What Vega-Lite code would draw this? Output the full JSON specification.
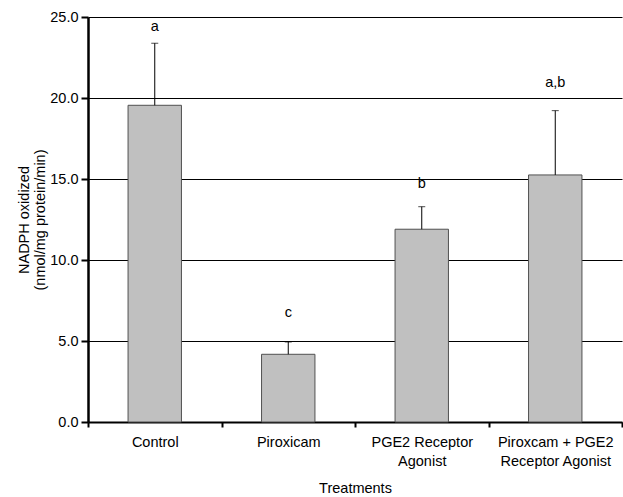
{
  "$schema": "https://vega.github.io/schema/vega-lite/v6.json",
  "width": 534,
  "height": 405,
  "autosize": {"type": "none"},
  "padding": {"left": 88, "top": 17, "right": 1, "bottom": 75},
  "background": "white",
  "config": {
    "view": {"stroke": null},
    "font": "Liberation Sans",
    "axis": {"labelFont": "Liberation Sans", "titleFont": "Liberation Sans"}
  },
  "data": {
    "values": [
      {"treatment": "Control", "mean": 19.55, "upper": 23.38, "letter": "a", "letterY": 24.4},
      {"treatment": "Piroxicam", "mean": 4.18, "upper": 4.94, "letter": "c", "letterY": 6.7},
      {"treatment": "PGE2 Receptor Agonist", "mean": 11.9, "upper": 13.29, "letter": "b", "letterY": 14.7},
      {"treatment": "Piroxcam + PGE2 Receptor Agonist", "mean": 15.25, "upper": 19.22, "letter": "a,b", "letterY": 20.9}
    ]
  },
  "encoding": {
    "x": {
      "field": "treatment",
      "type": "nominal",
      "sort": null,
      "scale": {"paddingInner": 0, "paddingOuter": 0},
      "axis": {
        "tickBand": "extent",
        "labelAngle": 0,
        "domainColor": "black",
        "domainWidth": 2,
        "tickColor": "black",
        "tickWidth": 2,
        "tickSize": 5,
        "labelPadding": 8,
        "labelFontSize": 14.5,
        "labelColor": "black",
        "labelLineHeight": 19,
        "labelExpr": "datum.label == 'PGE2 Receptor Agonist' ? ['PGE2 Receptor', 'Agonist'] : datum.label == 'Piroxcam + PGE2 Receptor Agonist' ? ['Piroxcam + PGE2', 'Receptor Agonist'] : datum.label",
        "title": "Treatments",
        "titleFontSize": 14.5,
        "titleFontWeight": "normal",
        "titleColor": "black",
        "titlePadding": 14,
        "grid": false
      }
    }
  },
  "layer": [
    {
      "mark": {"type": "bar", "width": {"band": 0.4}, "fill": "#c0c0c0", "stroke": "#505050", "strokeWidth": 1},
      "encoding": {
        "y": {
          "field": "mean",
          "type": "quantitative",
          "scale": {"domain": [0, 25], "nice": false},
          "axis": {
            "values": [0, 5, 10, 15, 20, 25],
            "format": ".1f",
            "grid": true,
            "gridColor": "black",
            "gridOpacity": 1,
            "gridWidth": 1,
            "domainColor": "black",
            "domainWidth": 2.5,
            "tickColor": "black",
            "tickWidth": 2,
            "tickSize": 7,
            "labelPadding": 3,
            "labelFontSize": 14.5,
            "labelColor": "black",
            "title": ["NADPH oxidized", "(nmol/mg protein/min)"],
            "titleFontSize": 14.5,
            "titleFontWeight": "normal",
            "titleColor": "black",
            "titlePadding": 2,
            "titleLineHeight": 16
          }
        }
      }
    },
    {
      "mark": {"type": "rule", "color": "black", "strokeWidth": 1},
      "encoding": {
        "y": {"field": "mean", "type": "quantitative"},
        "y2": {"field": "upper"}
      }
    },
    {
      "mark": {"type": "tick", "orient": "horizontal", "size": 7, "thickness": 1, "color": "black"},
      "encoding": {
        "y": {"field": "upper", "type": "quantitative"}
      }
    },
    {
      "mark": {"type": "text", "fontSize": 14.5, "baseline": "middle", "color": "black"},
      "encoding": {
        "y": {"field": "letterY", "type": "quantitative"},
        "text": {"field": "letter"}
      }
    }
  ]
}
